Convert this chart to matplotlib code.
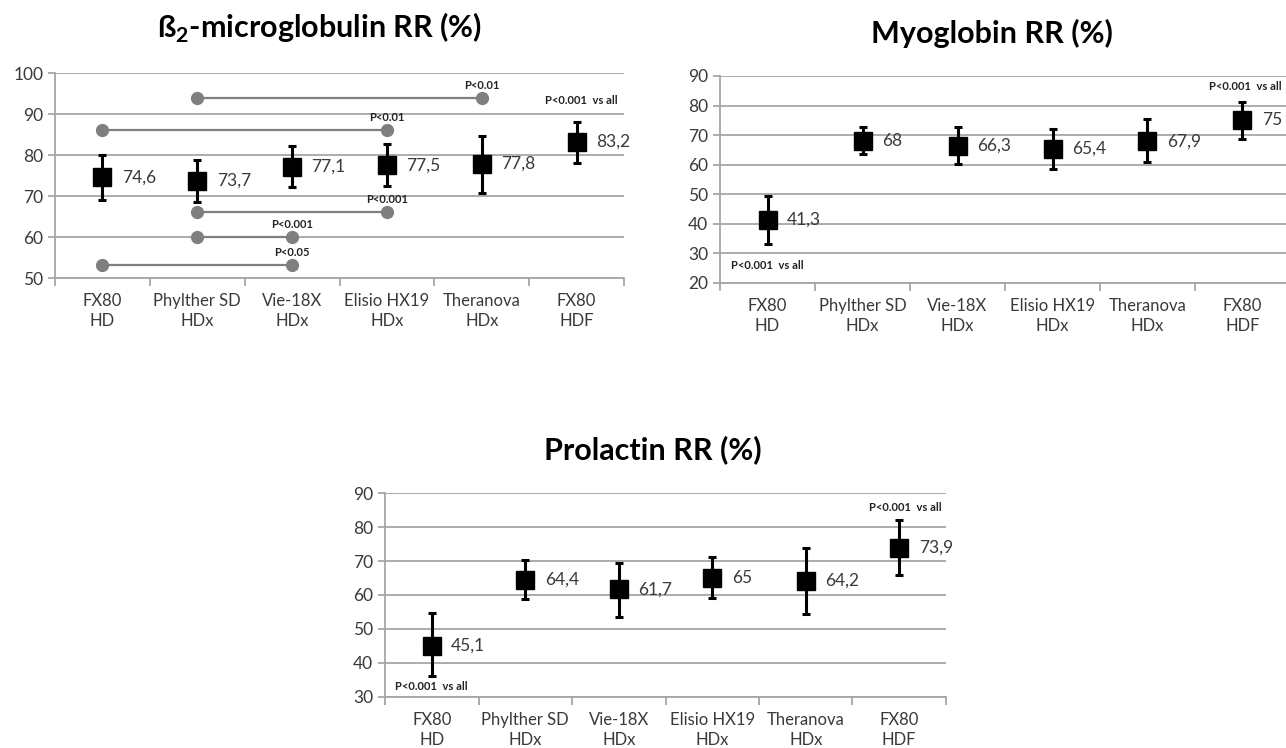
import matplotlib.pyplot as plt
import numpy as np

plt.rcParams['font.family'] = ['Lato', 'DejaVu Sans']
plt.rcParams['mathtext.fontset'] = 'custom'
plt.rcParams['mathtext.rm'] = 'Lato'
plt.rcParams['mathtext.bf'] = 'Lato:bold'

categories = ["FX80\nHD", "Phylther SD\nHDx", "Vie-18X\nHDx",
              "Elisio HX19\nHDx", "Theranova\nHDx", "FX80\nHDF"]

# beta2-microglobulin
b2m_mean = [74.6, 73.7, 77.1, 77.5, 77.8, 83.2]
b2m_low = [69.0, 68.5, 72.1, 72.5, 70.8, 78.1]
b2m_high = [80.0, 78.9, 82.2, 82.7, 84.6, 88.1]
b2m_pair_start = [1, 0, 1, 1, 0]
b2m_pair_end = [4, 3, 3, 2, 2]
b2m_pair_y = [93.9, 86.2, 66.2, 60.0, 53.1]
b2m_pair_text = ["P<0.01", "P<0.01", "P<0.001", "P<0.001", "P<0.05"]

# myoglobin
myo_mean = [41.3, 68, 66.3, 65.4, 67.9, 75]
myo_low = [33.3, 63.7, 60.3, 58.6, 61.0, 68.7]
myo_high = [49.5, 72.6, 72.6, 72.1, 75.4, 81.1]

# prolactin
prl_mean = [45.1, 64.4, 61.7, 65, 64.2, 73.9]
prl_low = [36.1, 58.8, 53.6, 59.1, 54.4, 65.8]
prl_high = [54.6, 70.3, 69.5, 71.3, 73.9, 82.2]

VS_ALL = "P<0.001  vs all"
GRID = '#a6a6a6'
TXT = '#3a3a3a'
PFS = 8


def draw_panel(ax, mean, low, high, ylim, ystep):
    x = np.arange(len(categories))
    mean = np.array(mean)
    yerr = [mean - np.array(low), np.array(high) - mean]
    ax.errorbar(x, mean, yerr=yerr, fmt='s', color='black', ms=13,
                elinewidth=2.2, capsize=3.2, capthick=2.2, zorder=4)
    for xi, v in zip(x, mean):
        ax.annotate(f"{v:g}".replace('.', ','), (xi, v), xytext=(14, 0),
                    textcoords='offset points', ha='left', va='center',
                    fontsize=12.5, color=TXT)

    ax.set_xlim(-0.5, len(categories) - 0.5)
    ax.set_ylim(*ylim)
    ax.set_yticks(np.arange(ylim[0], ylim[1] + 1, ystep))
    ax.yaxis.grid(True, color=GRID, lw=1.3)
    ax.set_axisbelow(True)
    for s in ['top', 'right']:
        ax.spines[s].set_visible(False)
    for s in ['left', 'bottom']:
        ax.spines[s].set_color(GRID)
        ax.spines[s].set_linewidth(1.3)

    ax.set_xticks(x)
    ax.set_xticklabels(categories, linespacing=1.3)
    ax.set_xticks(np.arange(-0.5, len(categories)), minor=True)
    ax.tick_params(axis='x', which='major', length=0, pad=11,
                   labelsize=12, labelcolor=TXT)
    ax.tick_params(axis='x', which='minor', length=6, width=1.3, color=GRID)
    ax.tick_params(axis='y', length=5, width=1.3, color=GRID,
                   labelsize=12.5, labelcolor=TXT)


fig = plt.figure(figsize=(12.86, 7.48), dpi=100)

# panel 1
ax1 = fig.add_axes([0.0428, 0.6283, 0.4425, 0.2741])
draw_panel(ax1, b2m_mean, b2m_low, b2m_high, (50, 100), 10)
for s, e, y, t in zip(b2m_pair_start, b2m_pair_end, b2m_pair_y, b2m_pair_text):
    ax1.plot([s, e], [y, y], color='#7f7f7f', lw=1.6, marker='o', ms=8.5,
             zorder=3)
    ax1.annotate(t, (e, y), xytext=(0, 5), textcoords='offset points',
                 ha='center', va='bottom', fontsize=PFS, fontweight='bold',
                 color='#222222')
ax1.text(5.05, 93.4, VS_ALL, ha='center', va='center', fontsize=PFS,
         fontweight='bold', color='#222222')
fig.text(0.2488, 0.9626, r"ß$_{\mathbf{2}}$-microglobulin RR (%)",
         ha='center', va='center', fontsize=22, fontweight='bold')

# panel 2
ax2 = fig.add_axes([0.5599, 0.6217, 0.4432, 0.2767])
draw_panel(ax2, myo_mean, myo_low, myo_high, (20, 90), 10)
ax2.text(4.65, 86.6, VS_ALL, ha='left', va='center', fontsize=PFS,
         fontweight='bold', color='#222222', clip_on=False)
ax2.text(-0.38, 26, VS_ALL, ha='left', va='center', fontsize=PFS,
         fontweight='bold', color='#222222')
fig.text(0.7714, 0.9559, "Myoglobin RR (%)", ha='center', va='center',
         fontsize=22, fontweight='bold')

# panel 3
ax3 = fig.add_axes([0.2994, 0.0682, 0.4362, 0.2727])
draw_panel(ax3, prl_mean, prl_low, prl_high, (30, 90), 10)
ax3.text(5.06, 85.6, VS_ALL, ha='center', va='center', fontsize=PFS,
         fontweight='bold', color='#222222')
ax3.text(-0.39, 33.2, VS_ALL, ha='left', va='center', fontsize=PFS,
         fontweight='bold', color='#222222')
fig.text(0.5078, 0.3984, "Prolactin RR (%)", ha='center', va='center',
         fontsize=22, fontweight='bold')

fig.savefig('out.png', dpi=100)
